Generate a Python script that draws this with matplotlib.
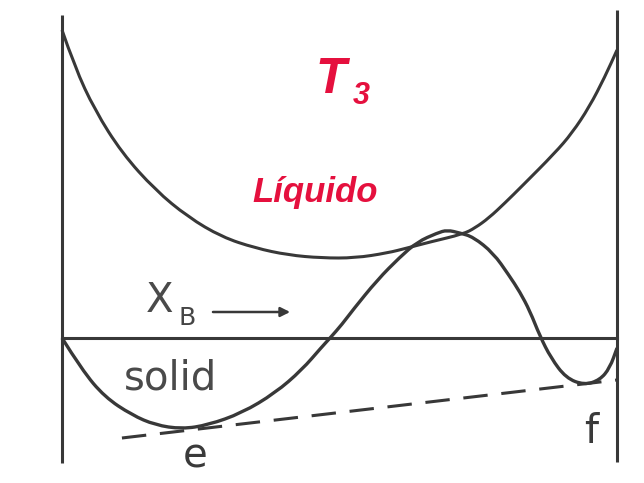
import matplotlib.pyplot as plt
from matplotlib.path import Path
from matplotlib.patches import PathPatch

# Composición X_B (0 = A puro, 1 = B puro) y energía libre G (unidades arbitrarias)
x_liq = [0.0, 0.023, 0.059, 0.108, 0.168, 0.227, 0.288, 0.348, 0.407, 0.468,
         0.528, 0.586, 0.622, 0.663, 0.723, 0.744, 0.769, 0.798, 0.829, 0.888,
         0.919, 0.950, 0.978, 1.0]
g_liq = [3.08, 2.71, 2.28, 1.85, 1.48, 1.21, 1.01, 0.90, 0.83, 0.80,
         0.80, 0.85, 0.90, 0.96, 1.04, 1.10, 1.20, 1.35, 1.52, 1.85,
         2.05, 2.31, 2.61, 2.88]

x_sol = [0.0, 0.036, 0.077, 0.126, 0.168, 0.216, 0.263, 0.324, 0.384, 0.432,
         0.468, 0.483, 0.505, 0.524, 0.568, 0.609, 0.640, 0.676, 0.694, 0.717,
         0.741, 0.777, 0.805, 0.825, 0.843, 0.861, 0.881, 0.908, 0.941, 0.969,
         0.987, 1.0]
g_sol = [0.0, -0.32, -0.59, -0.77, -0.87, -0.91, -0.87, -0.75, -0.55, -0.32,
         -0.09, 0.0, 0.14, 0.28, 0.58, 0.81, 0.96, 1.05, 1.08, 1.05,
         1.01, 0.85, 0.63, 0.46, 0.27, 0.02, -0.20, -0.40, -0.47, -0.42,
         -0.30, -0.10]

# tangente común entre los mínimos e y f
x_tan = [0.108, 1.0]
g_tan = [-1.00, -0.42]

# paredes de composición pura
wall_x = [0.0, 1.0]
wall_top = [3.23, 3.28]
wall_bottom = [-1.25, -1.24]

ink = '#383838'
red = '#e5103e'


def curva_suave(xs, ys):
    # cuadráticas por los puntos medios: pasa por los extremos y redondea las esquinas
    verts = [(xs[0], ys[0])]
    codes = [Path.MOVETO]
    for i in range(1, len(xs) - 1):
        mx = (xs[i] + xs[i + 1]) / 2
        my = (ys[i] + ys[i + 1]) / 2
        verts += [(xs[i], ys[i]), (mx, my)]
        codes += [Path.CURVE3, Path.CURVE3]
    verts.append((xs[-1], ys[-1]))
    codes.append(Path.LINETO)
    return Path(verts, codes)


fig = plt.figure(figsize=(6.44, 4.83), dpi=100)
ax = fig.add_axes([0, 0, 1, 1])
ax.set_xlim(-0.1117, 1.0486)
ax.set_ylim(-1.45, 3.38)
ax.axis('off')

for xw, top, bot in zip(wall_x, wall_top, wall_bottom):
    ax.plot([xw, xw], [bot, top], color=ink, lw=2.2, solid_capstyle='butt')

ax.plot([0, 1], [0, 0], color=ink, lw=2.2)
ax.add_patch(PathPatch(curva_suave(x_liq, g_liq), fill=False, edgecolor=ink, lw=2.2))
ax.add_patch(PathPatch(curva_suave(x_sol, g_sol), fill=False, edgecolor=ink, lw=2.4))
ax.plot(x_tan, g_tan, color=ink, lw=2.2, linestyle=(0, (8, 4.5)))

# etiquetas
ax.text(0.485, 2.45, 'T', color=red, fontsize=36, fontweight='bold',
        fontstyle='italic', family='Liberation Sans', ha='center', va='baseline')
ax.text(0.539, 2.34, '3', color=red, fontsize=22, fontweight='bold',
        fontstyle='italic', family='Liberation Sans', ha='center', va='baseline')
ax.text(0.456, 1.36, 'Líquido', color=red, fontsize=25, fontweight='bold',
        fontstyle='italic', family='Liberation Sans', ha='center', va='baseline')

ax.text(0.176, 0.26, 'X', color='#4a4a4a', fontsize=29, ha='center', va='baseline')
ax.text(0.225, 0.13, 'B', color='#454545', fontsize=18, ha='center', va='baseline')
ax.annotate('', xy=(0.416, 0.26), xytext=(0.267, 0.26),
            arrowprops=dict(arrowstyle='-|>', color=ink, lw=1.8,
                            mutation_scale=14))

ax.text(0.195, -0.52, 'solid', color='#4a4a4a', fontsize=29, ha='center', va='baseline')
ax.text(0.240, -1.30, 'e', color='#3a3a3a', fontsize=29, ha='center', va='baseline')
ax.text(0.953, -1.05, 'f', color='#3a3a3a', fontsize=29, ha='center', va='baseline')

fig.savefig('out.png', dpi=100)
